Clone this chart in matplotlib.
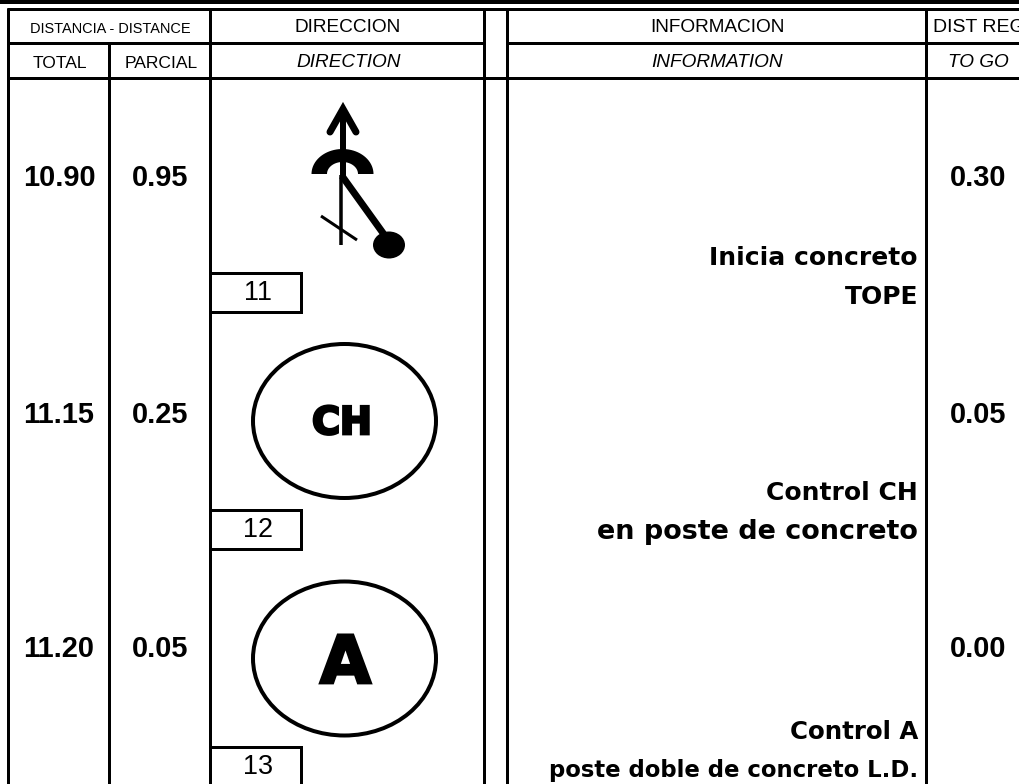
import matplotlib
matplotlib.use('Agg')
import matplotlib.pyplot as plt
import matplotlib.patheffects as pe
import numpy as np
from matplotlib.patches import Ellipse, Polygon, Rectangle

# table contents
totals = ['10.90', '11.15', '11.20']
partials = ['0.95', '0.25', '0.05']
to_go = ['0.30', '0.05', '0.00']
box_numbers = ['11', '12', '13']
info_top = ['Inicia concreto', 'Control CH', 'Control A']
info_bottom = ['TOPE', 'en poste de concreto', 'poste doble de concreto L.D.']
symbols = ['', 'CH', 'A']

# layout in pixels of the 1019x784 sheet
W, H = 1019, 784
row_y = [178, 415, 649]
box_y = [273, 510, 747]
info_y = [257, 492, 731]
ellipse_y = [0, 421, 658.5]
symbol_x = [0, 342, 345.5]
symbol_y = [0, 424, 665]
symbol_size = [0, 38, 66]
info_top_size = [25, 25, 24.5]
info_bottom_size = [25, 27, 22.7]
col_x = [8, 109, 210.5, 484, 507, 926.5]

plt.rcParams['font.family'] = ['Liberation Sans']
fig = plt.figure(figsize=(W / 100, H / 100), dpi=100)
ax = fig.add_axes([0, 0, 1, 1])
ax.set_xlim(0, W)
ax.set_ylim(H, 0)
ax.axis('off')


def px(size):
    return size * 0.72


def vline(x, y0=8, y1=H, lw=3):
    ax.plot([x, x], [y0, y1], color='black', lw=px(lw), solid_capstyle='butt')


def hline(y, x0=8, x1=W, lw=3):
    ax.plot([x0, x1], [y, y], color='black', lw=px(lw), solid_capstyle='butt')


# frame
hline(1.5, 0, W, 4)
hline(8.5, 7)
hline(42.5, 7, 484)
hline(42.5, 507, W)
hline(77.5, 7)
for x in col_x[0:1] + col_x[2:]:
    vline(x)
vline(col_x[1], 42)

# headers
ax.text(110, 29, 'DISTANCIA - DISTANCE', ha='center', va='center', fontsize=px(14.5))
ax.text(60, 63, 'TOTAL', ha='center', va='center', fontsize=px(17.5))
ax.text(161, 63, 'PARCIAL', ha='center', va='center', fontsize=px(17.5))
ax.text(348, 27, 'DIRECCION', ha='center', va='center', fontsize=px(19))
ax.text(349, 62, 'DIRECTION', ha='center', va='center', fontsize=px(19), style='italic')
ax.text(717, 27, 'INFORMACION', ha='center', va='center', fontsize=px(19))
ax.text(717, 62, 'INFORMATION', ha='center', va='center', fontsize=px(19), style='italic')
ax.text(933, 27, 'DIST REG', ha='left', va='center', fontsize=px(19.5), clip_on=True)
ax.text(978, 62, 'TO GO', ha='center', va='center', fontsize=px(19), style='italic')

# rows
for i in range(3):
    ax.text(59, row_y[i], totals[i], ha='center', va='center', fontsize=px(29), weight='bold')
    ax.text(160, row_y[i], partials[i], ha='center', va='center', fontsize=px(29), weight='bold')
    ax.text(978, row_y[i], to_go[i], ha='center', va='center', fontsize=px(29), weight='bold')
    ax.text(918, info_y[i] + 1, info_top[i], ha='right', va='center', fontsize=px(info_top_size[i]),
            weight='bold', family='DejaVu Sans')
    ax.text(918, info_y[i] + 40, info_bottom[i], ha='right', va='center', fontsize=px(info_bottom_size[i]),
            weight='bold', family='DejaVu Sans')
    ax.add_patch(Rectangle((col_x[2], box_y[i]), 91, 39, fc='white', ec='black', lw=px(3)))
    ax.text(258, box_y[i] + 20, box_numbers[i], ha='center', va='center', fontsize=px(27))
    if symbols[i]:
        ax.add_patch(Ellipse((344.5, ellipse_y[i]), 183, 154, fc='none', ec='black', lw=px(4)))
        ax.text(symbol_x[i], symbol_y[i], symbols[i], ha='center', va='center',
                fontsize=px(symbol_size[i]), weight='bold', family='DejaVu Sans',
                path_effects=[pe.withStroke(linewidth=2, foreground='black', joinstyle='miter')])

# turn symbol of row 1
ax.plot([343, 343], [110, 176], color='black', lw=px(6), solid_capstyle='butt')
ax.plot([341.5, 341.5], [175, 245], color='black', lw=px(3.5), solid_capstyle='butt')
ax.plot([330, 343, 356], [132, 109, 132], color='black', lw=px(7),
        solid_capstyle='round', solid_joinstyle='miter')
t = np.linspace(np.pi, 2 * np.pi, 40)
outer = np.column_stack([342.5 + 31 * np.cos(t), 174 + 25 * np.sin(t)])
inner = np.column_stack([342.5 + 15.5 * np.cos(t[::-1]), 174 + 12 * np.sin(t[::-1])])
ax.add_patch(Polygon(np.vstack([outer, inner]), closed=True, fc='black', ec='none'))
ax.plot([342, 388], [176, 240], color='black', lw=px(7), solid_capstyle='butt')
ax.add_patch(Ellipse((389, 245), 32, 27, fc='black', ec='none'))
ax.plot([321, 357], [216, 240], color='black', lw=px(3), solid_capstyle='butt')

fig.savefig('out.png', dpi=100)
